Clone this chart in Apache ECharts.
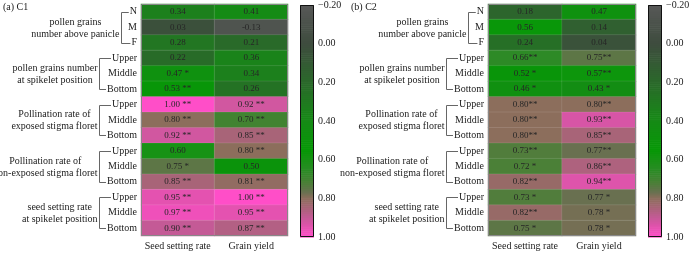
<!DOCTYPE html>
<html><head><meta charset="utf-8">
<script src="https://cdn.jsdelivr.net/npm/echarts@6/dist/echarts.min.js"></script>
<style>html,body{margin:0;padding:0;background:#fff}#c{width:693px;height:253px}</style>
</head><body><div id="c"></div><script>
// ---------- data ----------
const rowLabels = ['N','M','F','Upper','Middle','Bottom','Upper','Middle','Bottom','Upper','Middle','Bottom','Upper','Middle','Bottom'];
const groupNames = ['pollen grains\nnumber above panicle','pollen grains number\nat spikelet position','Pollination rate of\nexposed stigma floret','Pollination rate of\nnon-exposed stigma floret','seed setting rate\nat spikelet position'];
const groupRows = [[0,2],[3,5],[6,8],[9,11],[12,14]];
const columns = ['Seed setting rate','Grain yield'];
const panelTitles = ['(a) C1','(b) C2'];

const c1Seed  = [0.34,0.03,0.28,0.22,0.47,0.53,1.00,0.80,0.92,0.60,0.75,0.85,0.95,0.97,0.90];
const c1SeedSig  = ['','','','','*','**','**','**','**','','*','**','**','**','**'];
const c1Grain = [0.41,-0.13,0.21,0.36,0.34,0.26,0.92,0.70,0.85,0.80,0.50,0.81,1.00,0.95,0.87];
const c1GrainSig = ['','','','','','','**','**','**','**','','**','**','**','**'];

const c2Seed  = [0.18,0.56,0.24,0.66,0.52,0.46,0.80,0.80,0.80,0.73,0.72,0.82,0.73,0.82,0.75];
const c2SeedSig  = ['','','','**','*','*','**','**','**','**','*','**','*','**','*'];
const c2Grain = [0.47,0.14,0.04,0.75,0.57,0.43,0.80,0.93,0.85,0.77,0.86,0.94,0.77,0.78,0.78];
const c2GrainSig = ['','','','**','**','*','**','**','**','**','**','**','*','*','*'];

const colorbarTicks = ['\u22120.20','0.00','0.20','0.40','0.60','0.80','1.00'];

// ---------- style ----------
const FONT = '"Liberation Serif", "Times New Roman", serif';
const cmapStops = [
  [-0.2,[88,88,88]],[0.0,[62,76,62]],[0.2,[42,104,42]],[0.4,[22,138,22]],
  [0.55,[6,152,6]],[0.65,[40,140,35]],[0.72,[75,128,55]],[0.77,[105,112,80]],
  [0.80,[140,110,92]],[0.85,[168,100,120]],[0.90,[196,90,150]],[0.95,[228,82,176]],[1.0,[255,78,200]]
];
function cmap(v){
  if(v<=cmapStops[0][0]) return rgb(cmapStops[0][1]);
  for(let i=1;i<cmapStops.length;i++){
    if(v<=cmapStops[i][0]){
      const [a,ca]=cmapStops[i-1],[b,cb]=cmapStops[i];
      const t=(v-a)/(b-a);
      return rgb(ca.map((x,k)=>x+(cb[k]-x)*t));
    }
  }
  return rgb(cmapStops[cmapStops.length-1][1]);
}
function rgb(c){return 'rgb('+c.map(x=>Math.round(x)).join(',')+')';}

const panels = [
  {gridLeft:141, gridWidth:147, cbLeft:300, titleX:3, vals:[c1Seed,c1Grain], sigs:[c1SeedSig,c1GrainSig], tight:false},
  {gridLeft:488, gridWidth:148, cbLeft:648, titleX:351, vals:[c2Seed,c2Grain], sigs:[c2SeedSig,c2GrainSig], tight:true}
];
const GT=4, GH=232, CBT=5, CBH=232, CBW=14;

function cellText(v,s,tight){
  const t=v.toFixed(2);
  if(!s) return t;
  if(tight && s==='**') return t+'**';
  return t+' '+s;
}

const grids=[], xAxes=[], yAxes=[], series=[];
const cbSamples=[]; const STEP=0.01;
for(let k=0;k<120;k++) cbSamples.push([-0.2+k*STEP]);

panels.forEach((p,pi)=>{
  const g=grids.length;
  grids.push({left:p.gridLeft, top:GT, width:p.gridWidth, height:GH});
  xAxes.push({type:'category', gridIndex:g, data:columns, axisLine:{show:false}, axisTick:{show:false},
    axisLabel:{fontFamily:FONT, fontSize:10, color:'#222', margin:5, interval:0, hideOverlap:false}});
  yAxes.push({type:'category', gridIndex:g, inverse:true, data:rowLabels.map((_,i)=>String(i)),
    axisLine:{show:false}, axisTick:{show:false},
    axisLabel:{fontFamily:FONT, fontSize:10, color:'#222', margin:4, interval:0, formatter:(v)=>rowLabels[+v]}});
  const data=[], texts=[];
  p.vals.forEach((arr,c)=>arr.forEach((v,r)=>{data.push([c,r,v]); texts.push(cellText(v,p.sigs[c][r],p.tight));}));
  series.push({type:'heatmap', xAxisIndex:g, yAxisIndex:g, data:data,
    itemStyle:{borderColor:'rgba(255,255,255,0.18)', borderWidth:0.6},
    label:{show:true, fontFamily:FONT, fontSize:9, color:'#262626', formatter:(q)=>texts[q.dataIndex]},
    emphasis:{disabled:true}});
  const cg=grids.length;
  grids.push({left:p.cbLeft, top:CBT, width:CBW, height:CBH});
  xAxes.push({type:'value', gridIndex:cg, min:0, max:1, show:false});
  yAxes.push({type:'value', gridIndex:cg, min:-0.2, max:1.0, interval:0.2, inverse:true, position:'right',
    axisLine:{show:false}, splitLine:{show:false}, axisTick:{show:false},
    axisLabel:{fontFamily:FONT, fontSize:10, color:'#222', margin:4,
      formatter:(v)=>colorbarTicks[Math.round((v+0.2)/0.2)]}});
  series.push({type:'custom', xAxisIndex:cg, yAxisIndex:cg, data:cbSamples, silent:true,
    renderItem:(params,api)=>{
      const v=api.value(0);
      const a=api.coord([0,v]), b=api.coord([1,v+STEP]);
      return {type:'rect', shape:{x:a[0], y:Math.min(a[1],b[1]), width:b[0]-a[0], height:Math.abs(b[1]-a[1])+0.6},
        style:{fill:cmap(v+STEP/2)}};
    }});
});

const vmColors=[]; for(let k=0;k<=120;k++) vmColors.push(cmap(-0.2+k*0.01));

const chart=echarts.init(document.getElementById('c'),null,{renderer:'canvas'});
chart.setOption({
  animation:false,
  grid:grids, xAxis:xAxes, yAxis:yAxes, series:series,
  visualMap:{type:'continuous', show:false, min:-0.2, max:1.0, seriesIndex:[0,2], inRange:{color:vmColors}}
});

// ---------- annotations (brackets, group labels, titles, frames) ----------
const ctx=document.createElement('canvas').getContext('2d');
function textW(t,size){ctx.font=size+'px '+FONT; return ctx.measureText(t).width;}
const gfx=[];
panels.forEach((p,pi)=>{
  const g=pi*2;
  gfx.push({type:'text', left:p.titleX, top:2, style:{text:panelTitles[pi], font:'10px '+FONT, fill:'#222'}});
  gfx.push({type:'rect', shape:{x:p.gridLeft+0.5, y:GT+0.5, width:p.gridWidth-1, height:GH-1}, style:{fill:'none', stroke:'#888', lineWidth:1}, z:10});
  gfx.push({type:'rect', shape:{x:p.cbLeft+0.5, y:CBT+0.5, width:CBW-1, height:CBH-1}, style:{fill:'none', stroke:'#111', lineWidth:1}, z:10});
  const labelRight=p.gridLeft-4;
  groupRows.forEach((gr,gi)=>{
    const rows=[]; for(let r=gr[0];r<=gr[1];r++) rows.push(r);
    const lefts=rows.map(r=>labelRight-textW(rowLabels[r],10));
    const bx=Math.round(Math.min(...lefts)-7.5)+0.5;
    const y0=Math.round(chart.convertToPixel({gridIndex:g},[0,gr[0]])[1])+0.5;
    const y1=Math.round(chart.convertToPixel({gridIndex:g},[0,gr[1]])[1])+0.5;
    const lineStyle={stroke:'#666', lineWidth:1};
    gfx.push({type:'polyline', shape:{points:[[lefts[0]-1,y0],[bx,y0],[bx,y1],[lefts[lefts.length-1]-1,y1]]}, style:Object.assign({fill:null},lineStyle)});
    const lines=groupNames[gi].split('\n');
    const mw=Math.max(...lines.map(l=>textW(l,10)));
    gfx.push({type:'text', x:bx-2-mw/2, y:(y0+y1)/2,
      style:{text:groupNames[gi], font:'10px '+FONT, fill:'#222', align:'center', verticalAlign:'middle', lineHeight:12}});
  });
});
chart.setOption({graphic:gfx});
</script></body></html>
